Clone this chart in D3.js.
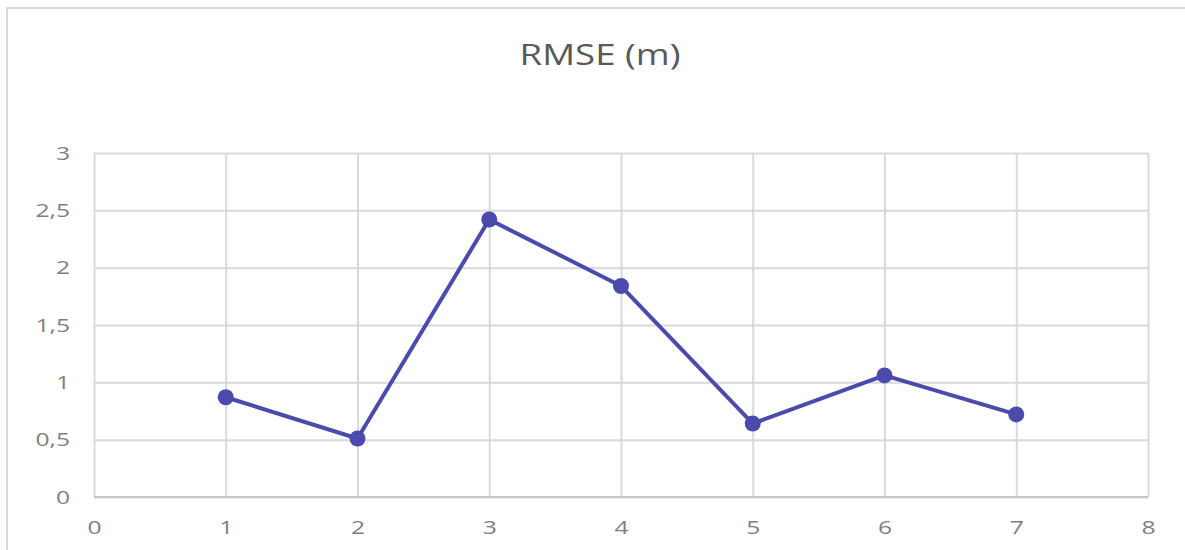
<!DOCTYPE html>
<html>
<head>
<meta charset="utf-8">
<script src="https://cdn.jsdelivr.net/npm/d3@7"></script>
<style>
  body { margin: 0; background: #fff; }
  svg { display: block; font-family: "Open Sans", "Noto Sans", sans-serif; }
</style>
</head>
<body>
<svg id="chart" width="1185" height="550"></svg>
<script>
// Data
const xValues = [1, 2, 3, 4, 5, 6, 7];
const rmse = [0.87, 0.51, 2.42, 1.84, 0.64, 1.06, 0.72];
const xTicks = [0, 1, 2, 3, 4, 5, 6, 7, 8];
const yTicks = [0, 0.5, 1, 1.5, 2, 2.5, 3];

const margin = {top: 153, right: 37, bottom: 53, left: 94};
const width = 1185 - margin.left - margin.right;
const height = 550 - margin.top - margin.bottom;
const stretch = 1.3; // source image text is a bit wide

const svg = d3.select('#chart');

// Chart frame
svg.append('rect')
    .attr('x', 7).attr('y', 8)
    .attr('width', 1200).attr('height', 600)
    .attr('fill', 'none')
    .attr('stroke', '#d9d9d9')
    .attr('stroke-width', 2);

// Title
svg.append('text')
    .attr('transform', 'translate(600,65) scale(1.22,1)')
    .attr('text-anchor', 'middle')
    .attr('fill', '#595959')
    .style('font-size', '30px')
    .text('RMSE (m)');

const g = svg.append('g')
    .attr('transform', `translate(${margin.left},${margin.top})`);

const xScale = d3.scaleLinear().domain([0, 8]).range([0, width]);
const yScale = d3.scaleLinear().domain([0, 3]).range([height, 0]);

const fmt = d => String(d).replace('.', ',');

// Grid lines
g.append('g')
    .attr('class', 'grid')
    .call(d3.axisLeft(yScale).tickValues(yTicks).tickSize(-width).tickFormat(''))
    .call(s => s.select('.domain').remove())
    .selectAll('line')
    .attr('stroke', '#d9d9d9')
    .attr('stroke-width', 2);

g.append('g')
    .attr('class', 'grid')
    .attr('transform', `translate(0,${height})`)
    .call(d3.axisBottom(xScale).tickValues(xTicks).tickSize(-height).tickFormat(''))
    .call(s => s.select('.domain').remove())
    .selectAll('line')
    .attr('stroke', '#d9d9d9')
    .attr('stroke-width', 2);

// Bottom axis line
g.append('line')
    .attr('x1', 0).attr('x2', width)
    .attr('y1', yScale(0)).attr('y2', yScale(0))
    .attr('stroke', '#c8c8c8')
    .attr('stroke-width', 2);

// Axis labels
const yAxis = g.append('g')
    .call(d3.axisLeft(yScale).tickValues(yTicks).tickSize(0).tickPadding(24).tickFormat(fmt));
yAxis.select('.domain').remove();
yAxis.selectAll('text')
    .attr('x', -24 / stretch)
    .attr('transform', `scale(${stretch},1)`)
    .attr('fill', '#7f7f7f')
    .style('font-size', '19px')
    .style('font-family', '"Open Sans", "Noto Sans", sans-serif');

const xAxis = g.append('g')
    .attr('transform', `translate(0,${height})`)
    .call(d3.axisBottom(xScale).tickValues(xTicks).tickSize(0).tickPadding(24).tickFormat(fmt));
xAxis.select('.domain').remove();
xAxis.selectAll('text')
    .attr('transform', `scale(${stretch},1)`)
    .attr('fill', '#7f7f7f')
    .style('font-size', '19px')
    .style('font-family', '"Open Sans", "Noto Sans", sans-serif');

// Line and markers
const points = xValues.map((x, i) => ({x: x, y: rmse[i]}));

g.append('path')
    .datum(points)
    .attr('fill', 'none')
    .attr('stroke', '#4b4bad')
    .attr('stroke-width', 4)
    .attr('stroke-linejoin', 'round')
    .attr('d', d3.line().x(d => xScale(d.x)).y(d => yScale(d.y)));

g.selectAll('.dot')
    .data(points)
    .enter()
    .append('circle')
    .attr('class', 'dot')
    .attr('cx', d => xScale(d.x))
    .attr('cy', d => yScale(d.y))
    .attr('r', 8)
    .attr('fill', '#4b4bad');
</script>
</body>
</html>
